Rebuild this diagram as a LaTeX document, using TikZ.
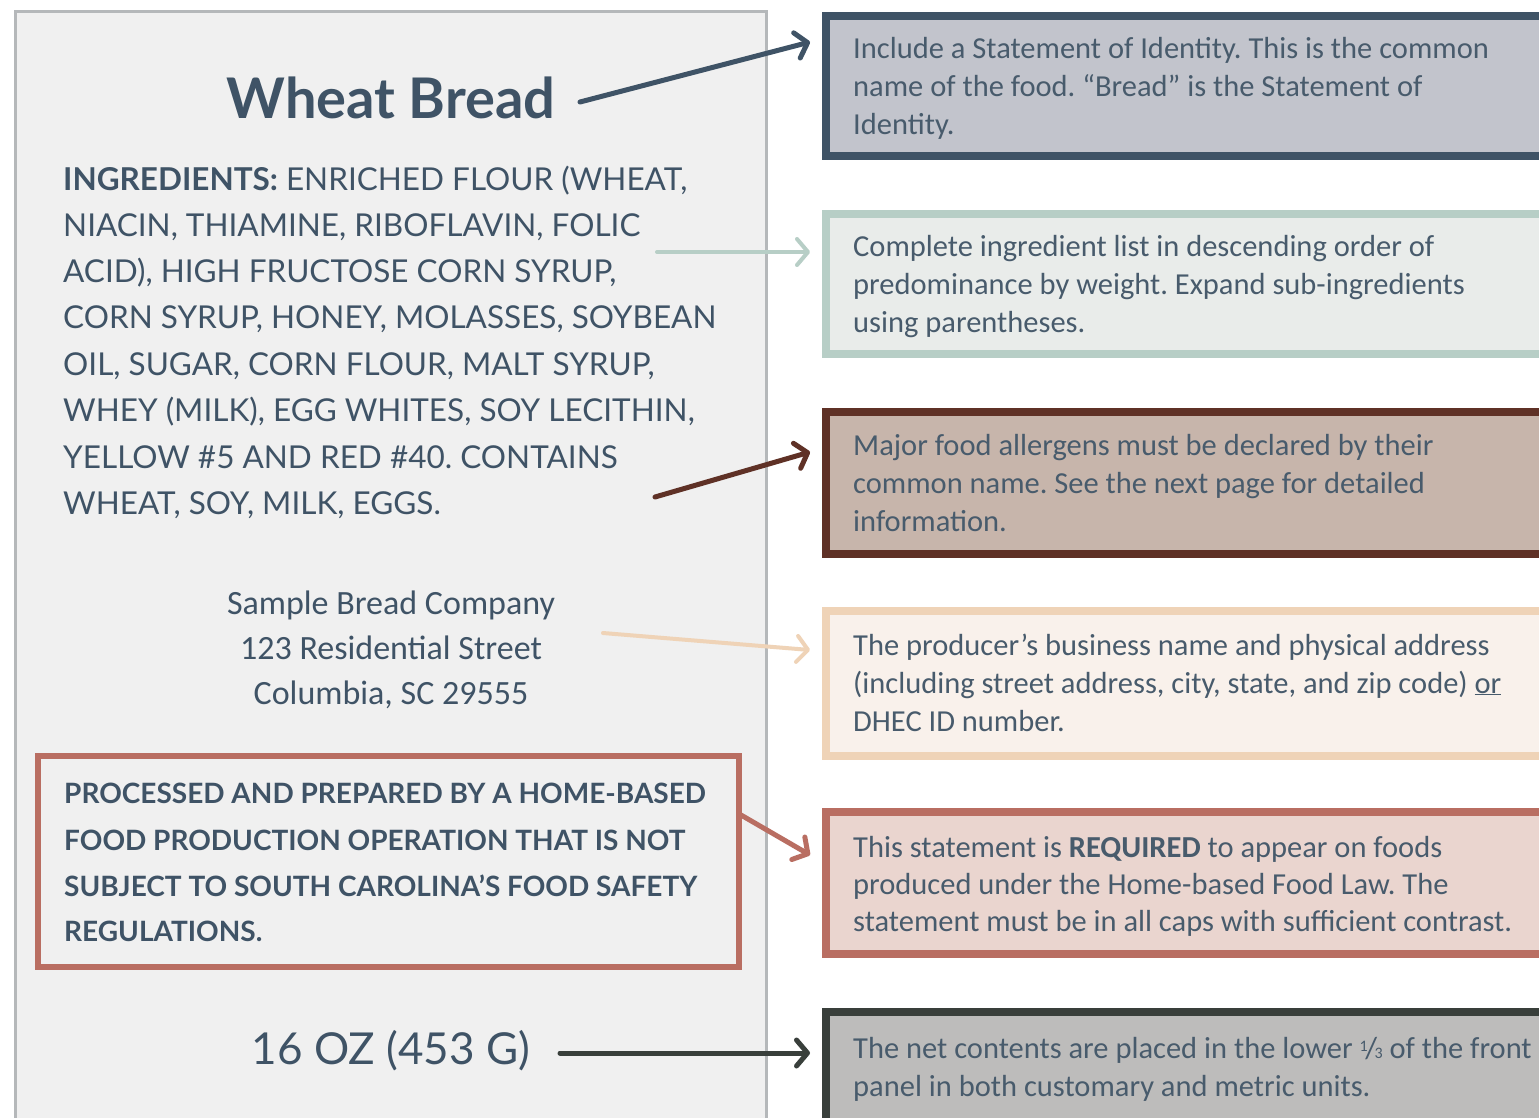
\documentclass[tikz,border=0pt]{standalone}
\usepackage{fontspec}
\setmainfont{Carlito}
\newfontfamily\capfont{Lato}
\usetikzlibrary{arrows.meta,calc}
\definecolor{ink}{HTML}{3F5366}
\definecolor{rink}{HTML}{485B6C}
\definecolor{panelfill}{HTML}{F0F0F0}
\definecolor{paneldraw}{HTML}{B5B8BA}
\definecolor{bAf}{HTML}{C2C4CC}\definecolor{bAd}{HTML}{3F5366}
\definecolor{bBf}{HTML}{E9ECEA}\definecolor{bBd}{HTML}{B7CEC6}
\definecolor{bCf}{HTML}{C7B5AB}\definecolor{bCd}{HTML}{5F3126}
\definecolor{bDf}{HTML}{F9F1EB}\definecolor{bDd}{HTML}{EFD3B7}
\definecolor{bEf}{HTML}{EAD5CF}\definecolor{bEd}{HTML}{B96E62}
\definecolor{bFf}{HTML}{BDBCBB}\definecolor{bFd}{HTML}{393F3B}
\newcommand{\myonethird}{\raisebox{0.45ex}{\fontsize{16}{16}\selectfont 1}\kern-0.08em/\kern-0.08em{\fontsize{16}{16}\selectfont 3}}
\frenchspacing
\begin{document}
\begin{tikzpicture}[x=1pt,y=-1pt,
  rbox/.style={draw, line width=8pt, anchor=north west, outer sep=0pt, inner sep=0pt, minimum width=800pt},
  rtext/.style={anchor=base west, inner sep=0pt, text=rink, font=\fontsize{30.5}{34}\selectfont},
  ingtext/.style={anchor=base west, inner sep=0pt, text=ink, font=\capfont\fontsize{31.5}{34}\selectfont},
  addrtext/.style={anchor=base, inner sep=0pt, text=ink, font=\fontsize{34}{40}\selectfont},
  warntext/.style={anchor=base west, inner sep=0pt, text=ink, font=\capfont\bfseries\fontsize{28}{30}\selectfont},
  conn/.style={line width=5pt, line cap=round, -{Straight Barb[length=11pt,width=26pt,round]}},
]
\useasboundingbox (0,0) rectangle (1539,1117);
\clip (0,0) rectangle (1539,1117);
\fill[white] (0,0) rectangle (1539,1117);
% left panel
\filldraw[fill=panelfill, draw=paneldraw, line width=3pt] (15.5,1130) -- (15.5,11.5) -- (766,11.5) -- (766,1130);
% title
\node[anchor=base, inner sep=0pt, text=ink, font=\capfont\bfseries\fontsize{56}{60}\selectfont] (title) at (391,118) {Wheat Bread};
% ingredients
\node[ingtext] (ing1) at (63,190) {\textbf{INGREDIENTS:} ENRICHED FLOUR (WHEAT,};
\node[ingtext] (ing2) at (63,236) {NIACIN, THIAMINE, RIBOFLAVIN, FOLIC};
\node[ingtext] (ing3) at (63,282) {ACID), HIGH FRUCTOSE CORN SYRUP,};
\node[ingtext] (ing4) at (63,328) {CORN SYRUP, HONEY, MOLASSES, SOYBEAN};
\node[ingtext] (ing5) at (63,375) {OIL, SUGAR, CORN FLOUR, MALT SYRUP,};
\node[ingtext] (ing6) at (63,421) {WHEY (MILK), EGG WHITES, SOY LECITHIN,};
\node[ingtext] (ing7) at (63,468) {YELLOW \#5 AND RED \#40. CONTAINS};
\node[ingtext] (ing8) at (63,514) {WHEAT, SOY, MILK, EGGS.};
% address
\node[addrtext] (adr1) at (391,614) {Sample Bread Company};
\node[addrtext] (adr2) at (391,659) {123 Residential Street};
\node[addrtext] (adr3) at (391,704) {Columbia, SC 29555};
% warning box
\node[draw=bEd, line width=6pt, anchor=north west, outer sep=0pt, inner sep=0pt, minimum width=701pt, minimum height=211pt] (warn) at (38,756) {};
\node[warntext] (w1) at (64,803) {PROCESSED AND PREPARED BY A HOME-BASED};
\node[warntext] (w2) at (64,850) {FOOD PRODUCTION OPERATION THAT IS NOT};
\node[warntext] (w3) at (64,896) {SUBJECT TO SOUTH CAROLINA’S FOOD SAFETY};
\node[warntext] (w4) at (64,941) {REGULATIONS.};
% net contents
\node[anchor=base, inner sep=0pt, text=ink, font=\capfont\fontsize{44}{48}\selectfont] (net) at (391,1064) {16 OZ (453 G)};
% right boxes
\node[rbox, draw=bAd, fill=bAf, minimum height=140pt] (box1) at (826,16) {};
\node[rbox, draw=bBd, fill=bBf, minimum height=140pt] (box2) at (826,214) {};
\node[rbox, draw=bCd, fill=bCf, minimum height=142pt] (box3) at (826,412) {};
\node[rbox, draw=bDd, fill=bDf, minimum height=145pt] (box4) at (826,611) {};
\node[rbox, draw=bEd, fill=bEf, minimum height=142pt] (box5) at (826,812) {};
\node[rbox, draw=bFd, fill=bFf, minimum height=200pt] (box6) at (826,1012) {};
% right texts
\node[rtext] (t11) at (853,58) {Include a Statement of Identity. This is the common};
\node[rtext] (t12) at (853,96) {name of the food. “Bread” is the Statement of};
\node[rtext] (t13) at (853,134) {Identity.};
\node[rtext] (t21) at (853,256) {Complete ingredient list in descending order of};
\node[rtext] (t22) at (853,294) {predominance by weight. Expand sub-ingredients};
\node[rtext] (t23) at (853,332) {using parentheses.};
\node[rtext] (t31) at (853,455) {Major food allergens must be declared by their};
\node[rtext] (t32) at (853,493) {common name. See the next page for detailed};
\node[rtext] (t33) at (853,531) {information.};
\node[rtext] (t41) at (853,655) {The producer’s business name and physical address};
\node[rtext] (t42) at (853,693) {(including street address, city, state, and zip code) \underline{or}};
\node[rtext] (t43) at (853,731) {DHEC ID number.};
\node[rtext] (t51) at (853,857) {This statement is \textbf{REQUIRED} to appear on foods};
\node[rtext] (t52) at (853,894) {produced under the Home-based Food Law. The};
\node[rtext] (t53) at (853,931) {statement must be in all caps with sufficient contrast.};
\node[rtext] (t61) at (853,1058) {The net contents are placed in the lower \myonethird\ of the front};
\node[rtext] (t62) at (853,1096) {panel in both customary and metric units.};
% connectors
\coordinate (e1) at ($(box1.north west)+(-16,26)$);
\coordinate (e2) at ($(box2.north west)+(-16,38)$);
\coordinate (e3) at ($(box3.north west)+(-16,40)$);
\coordinate (e4) at ($(box4.north west)+(-16,39)$);
\coordinate (e5) at ($(box5.north west)+(-16,43)$);
\coordinate (e6) at ($(box6.north west)+(-16,41)$);
\coordinate (s1) at (580,102);
\coordinate (s2) at (657,252);
\coordinate (s3) at (655,497);
\coordinate (s4) at (603,633);
\coordinate (s5) at ($(warn.north east)+(2,59)$);
\coordinate (s6) at (560,1053);
\draw[conn, draw=bAd] (s1) -- (e1);
\draw[conn, draw=bBd, line width=4pt] (s2) -- (e2);
\draw[conn, draw=bCd] (s3) -- (e3);
\draw[conn, draw=bDd, line width=4pt] (s4) -- (e4);
\draw[conn, draw=bEd] (s5) -- (e5);
\draw[conn, draw=bFd] (s6) -- (e6);
\end{tikzpicture}
\end{document}
